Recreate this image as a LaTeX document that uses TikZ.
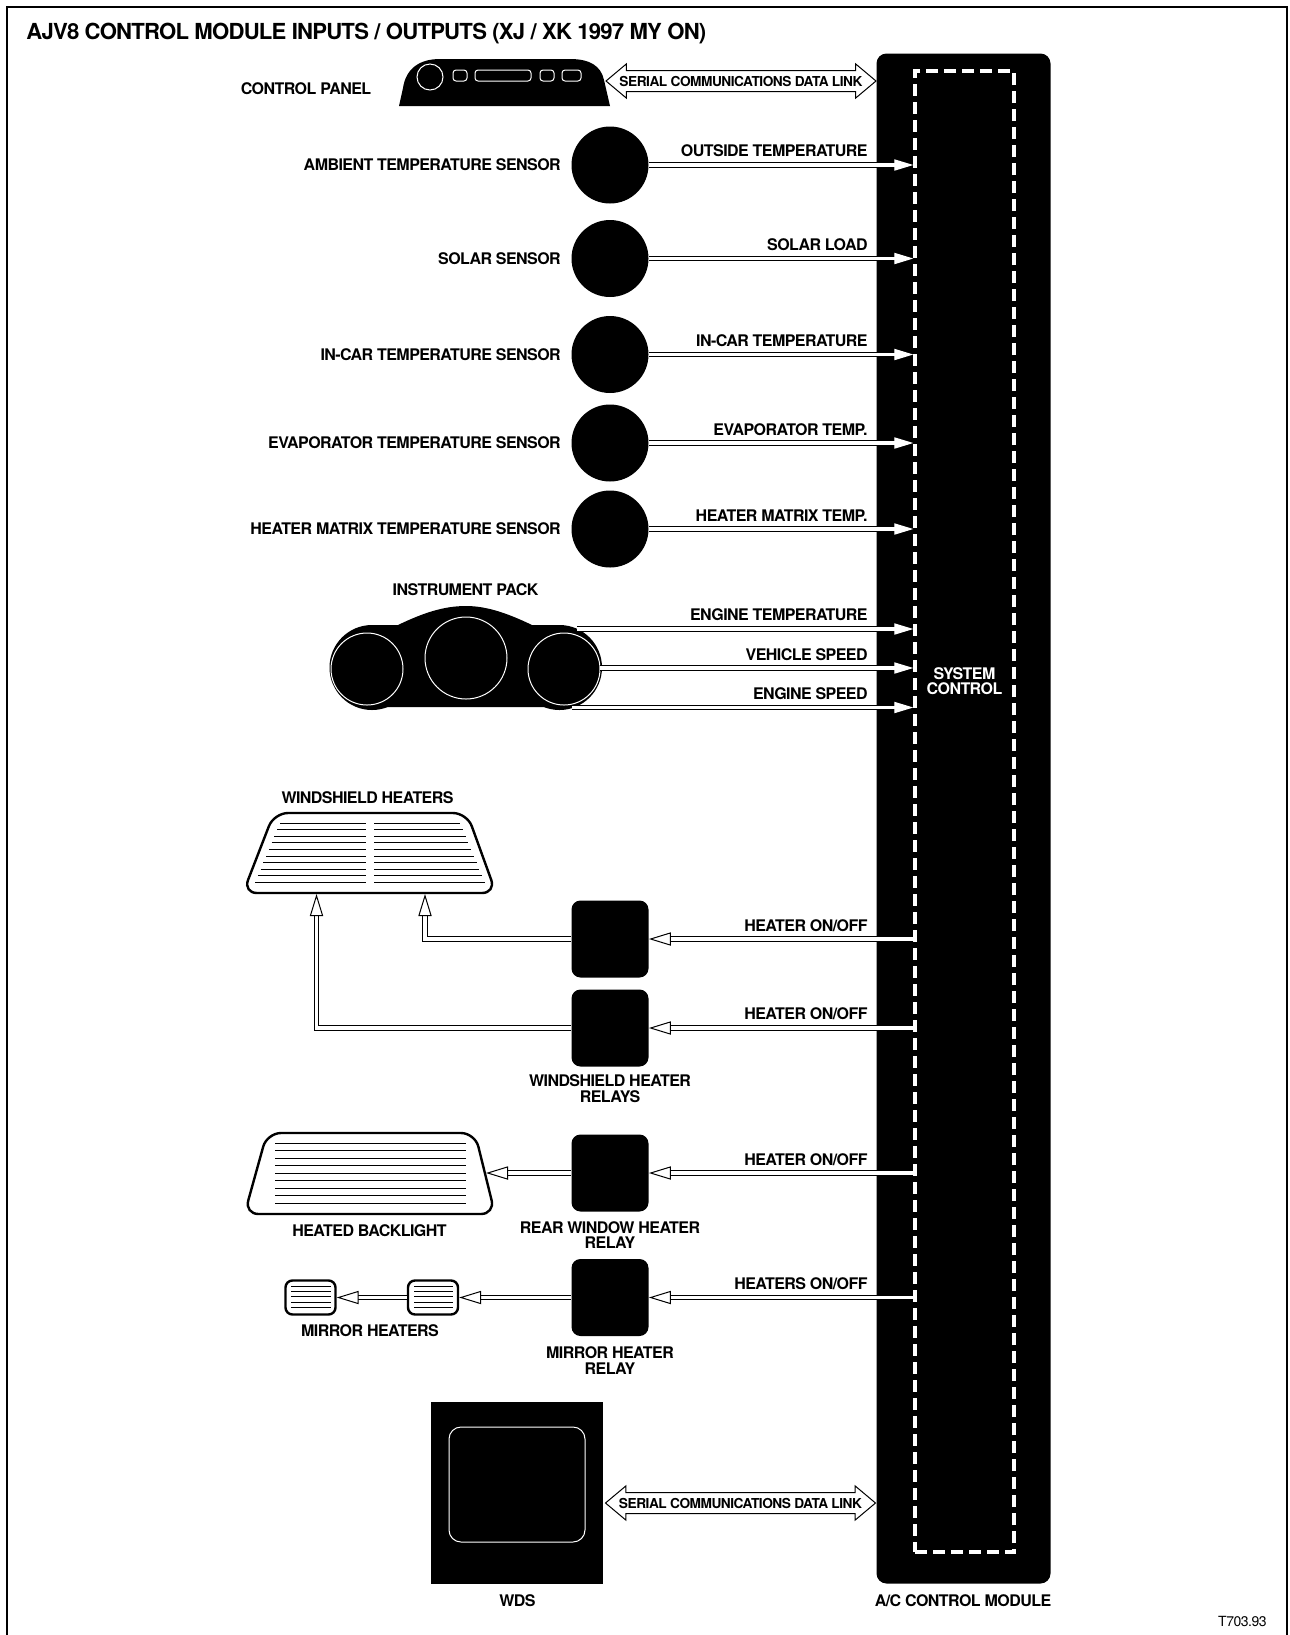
\documentclass[tikz,border=0pt]{standalone}
\usepackage{fontspec}
\setmainfont{TeX Gyre Heros}[LetterSpace=-3.5]
\usetikzlibrary{positioning,arrows.meta,shapes.arrows,calc}
\tikzset{
  font=\fontsize{8pt}{7.7pt}\selectfont\bfseries,
  sensor/.style={circle, fill=black, minimum size=38.5pt, inner sep=0pt},
  relay/.style={rectangle, fill=black, rounded corners=4.5pt, minimum size=38.5pt, inner sep=0pt},
  mirrorbox/.style={rectangle, draw=black, fill=white, line width=1.2pt, rounded corners=3.5pt,
                 minimum width=25pt, minimum height=17pt, inner sep=0pt},
  dial/.style={circle, draw=white, line width=0.5pt, fill=black, inner sep=0pt},
  caption/.style={align=center, inner sep=0pt},
  tag/.style={anchor=east, inner sep=0pt},
  side/.style={inner sep=0pt},
  wire/.style={line width=0.5pt},
  glass/.style={draw=black, fill=white, line width=1.2pt},
  btn/.style={draw=white, line width=0.5pt, rounded corners=1.5pt},
  sigin/.style={double, double distance=1.6pt, line width=0.6pt,
                -{Triangle[length=9.5pt,width=5.6pt,color=white]}},
  sigout/.style={double, double distance=1.6pt, line width=0.6pt,
                 -{Triangle[length=11pt,width=6.6pt,fill=white,color=black,line width=0.5pt]}},
  datalink/.style={double arrow, draw=black, line width=0.5pt, fill=white,
                   font=\fontsize{6.85pt}{7pt}\selectfont\bfseries, text height=5pt, text depth=0pt,
                   inner xsep=0pt, inner ysep=2.5pt, minimum width=16.5pt, minimum height=135pt,
                   double arrow head extend=3.3pt, double arrow tip angle=80},
}

\begin{document}
\begin{tikzpicture}[x=0.5pt, y=-0.5pt]
\useasboundingbox (0,0) rectangle (1290,1635);

% --- frame and title ---------------------------------------------------------------------
\draw[line width=1pt] (6.5,1635) -- (6.5,6.5) -- (1286.5,6.5) -- (1286.5,1635);
\node[anchor=west, inner sep=0pt, font=\fontsize{11.05pt}{12pt}\selectfont\bfseries] (title) at (26,33.5)
  {AJV8 CONTROL MODULE INPUTS / OUTPUTS (XJ / XK 1997 MY ON)};
\node[anchor=east, inner sep=0pt, font=\fontsize{7pt}{8pt}\selectfont] (ref) at (1267,1621) {T703.93};

% --- control module ----------------------------------------------------------------------
\node[rectangle, fill=black, rounded corners=5pt, minimum width=87pt, minimum height=765pt,
      inner sep=0pt] (module) at (963.5,818.5) {};
\node[draw=white, line width=1.7pt, dash pattern=on 6pt off 3pt, minimum width=49.5pt,
      minimum height=740.5pt, inner sep=0pt] (sys) at (964.5,811.5) {};
\node[caption, text=white] (syslabel) at (964.5,681) {SYSTEM\\CONTROL};
\node[caption] (modulelabel) at (963,1601) {A/C CONTROL MODULE};

% --- control panel -----------------------------------------------------------------------
\fill (399,106) -- (403,88) .. controls (406,68) and (420,59) .. (440,59) -- (570,59)
  .. controls (590,59) and (601,66) .. (604,80) -- (610,106) -- cycle;
\draw[white, line width=0.5pt] (430,77) circle (6.5pt);
\draw[btn] (453,70) rectangle (467,81);
\draw[btn] (475,70) rectangle (531,81);
\draw[btn] (540,70) rectangle (554,81);
\draw[btn] (562,70) rectangle (581,81);
\node[caption] (panellabel) at (306,88.5) {CONTROL PANEL};
\node[datalink] (linkA) at (741,81) {SERIAL COMMUNICATIONS DATA LINK};

% --- sensors -----------------------------------------------------------------------------
\node[sensor] (ambient) at (610,165) {};
\node[sensor] (solar) at (610,258.5) {};
\node[sensor] (incar) at (610,354.5) {};
\node[sensor] (evap) at (610,443) {};
\node[sensor] (matrix) at (610,529) {};
\node[side, left=5pt of ambient] (ambientname) {AMBIENT TEMPERATURE SENSOR};
\node[side, left=5pt of solar] (solarname) {SOLAR SENSOR};
\node[side, left=5pt of incar] (incarname) {IN-CAR TEMPERATURE SENSOR};
\node[side, left=5pt of evap] (evapname) {EVAPORATOR TEMPERATURE SENSOR};
\node[side, left=5pt of matrix] (matrixname) {HEATER MATRIX TEMPERATURE SENSOR};
\draw[sigin] (ambient) -- (ambient -| sys.west);
\draw[sigin] (solar) -- (solar -| sys.west);
\draw[sigin] (incar) -- (incar -| sys.west);
\draw[sigin] (evap) -- (evap -| sys.west);
\draw[sigin] (matrix) -- (matrix -| sys.west);
\node[tag] (ambienttag) at (868,151) {OUTSIDE TEMPERATURE};
\node[tag] (solartag) at (868,245) {SOLAR LOAD};
\node[tag] (incartag) at (868,341) {IN-CAR TEMPERATURE};
\node[tag] (evaptag) at (868,430) {EVAPORATOR TEMP.};
\node[tag] (matrixtag) at (868,516) {HEATER MATRIX TEMP.};

% --- instrument pack ---------------------------------------------------------------------
\fill (372,667.5) circle (21.25pt);
\fill (559.5,667.5) circle (21.25pt);
\fill (372,707) -- (560,707) -- (560,625) -- (532,625) .. controls (505,612) and (485,606) .. (466,606)
  .. controls (445,606) and (425,612) .. (398,625) -- (372,625) -- cycle;
\node[dial, minimum size=36pt] (gaugeL) at (367,669) {};
\node[dial, minimum size=41pt] (gaugeM) at (466,658) {};
\node[dial, minimum size=36pt] (gaugeR) at (564,669) {};
\node[caption] (packlabel) at (465.5,590) {INSTRUMENT PACK};
\coordinate (packtop) at (577,629);
\coordinate (packmid) at (600,668);
\coordinate (packlow) at (572,707.5);
\draw[sigin] (packtop) -- (packtop -| sys.west);
\draw[sigin] (packmid) -- (packmid -| sys.west);
\draw[sigin] (packlow) -- (packlow -| sys.west);
\node[tag] (temptag) at (868,615) {ENGINE TEMPERATURE};
\node[tag] (speedtag) at (868,655) {VEHICLE SPEED};
\node[tag] (revtag) at (868,694) {ENGINE SPEED};

% --- windshield heaters ------------------------------------------------------------------
\draw[glass, rounded corners=7pt] (243,893) -- (274,813) -- (467,813) -- (496,893) -- cycle;
\foreach \i in {0,...,9} {
  \draw[wire] ({280-\i*25/9},{823.3+\i*6.55}) -- (365.5,{823.3+\i*6.55});
  \draw[wire] (374,{823.3+\i*6.55}) -- ({460+\i*25/9},{823.3+\i*6.55});
}
\node[caption] (shieldlabel) at (367.5,798) {WINDSHIELD HEATERS};
\coordinate (shieldA) at (425,894);
\coordinate (shieldB) at (316.5,894);
\node[relay] (relayA) at (610,939) {};
\node[relay] (relayB) at (610,1028) {};
\node[caption] (relaylabel) at (610,1088.5) {WINDSHIELD HEATER\\RELAYS};
\draw[sigout] (relayA -| sys.west) -- (relayA);
\draw[sigout] (relayB -| sys.west) -- (relayB);
\draw[sigout] (relayA) -| (shieldA);
\draw[sigout] (relayB) -| (shieldB);
\node[tag] (heatA) at (868,926) {HEATER ON/OFF};
\node[tag] (heatB) at (868,1014) {HEATER ON/OFF};

% --- heated backlight --------------------------------------------------------------------
\draw[glass, rounded corners=7pt] (244.5,1214) -- (267,1133) -- (475,1133) -- (495,1214) -- cycle;
\foreach \i in {0,...,8} {
  \draw[wire] (275,{1143.3+\i*7.5}) -- (465.5,{1143.3+\i*7.5});
}
\node[caption] (backlabel) at (369.5,1230.5) {HEATED BACKLIGHT};
\coordinate (backtip) at (486,1173);
\node[relay] (relayC) at (610,1173) {};
\node[caption] (rearlabel) at (610,1235) {REAR WINDOW HEATER\\RELAY};
\draw[sigout] (relayC -| sys.west) -- (relayC);
\draw[sigout] (relayC) -- (backtip);
\node[tag] (heatC) at (868,1160) {HEATER ON/OFF};

% --- mirror heaters ----------------------------------------------------------------------
\node[mirrorbox] (mirrorA) at (433,1297.5) {};
\node[mirrorbox] (mirrorB) at (310.5,1297.5) {};
\foreach \i in {0,...,4} {
  \draw[wire] (414,{1286+\i*5.4}) -- (452.5,{1286+\i*5.4});
  \draw[wire] (291,{1286+\i*5.4}) -- (330.5,{1286+\i*5.4});
}
\node[caption] (mirrorlabel) at (370,1330.5) {MIRROR HEATERS};
\node[relay] (relayD) at (610,1297.5) {};
\node[caption] (mirrorrelay) at (610,1360.5) {MIRROR HEATER\\RELAY};
\draw[sigout] (relayD -| sys.west) -- (relayD);
\draw[sigout] (relayD) -- (mirrorA);
\draw[sigout] (mirrorA) -- (mirrorB);
\node[tag] (heatD) at (868,1284) {HEATERS ON/OFF};

% --- WDS ---------------------------------------------------------------------------------
\node[rectangle, fill=black, minimum width=86pt, minimum height=91pt, inner sep=0pt] (wds) at (517,1493) {};
\node[rectangle, draw=white, line width=0.5pt, rounded corners=6pt, minimum width=68pt,
      minimum height=57.5pt, inner sep=0pt] (screen) at (517,1484.5) {};
\node[caption] (wdslabel) at (517.5,1601) {WDS};
\node[datalink] (linkB) at (740.5,1503) {SERIAL COMMUNICATIONS DATA LINK};

\end{tikzpicture}
\end{document}
